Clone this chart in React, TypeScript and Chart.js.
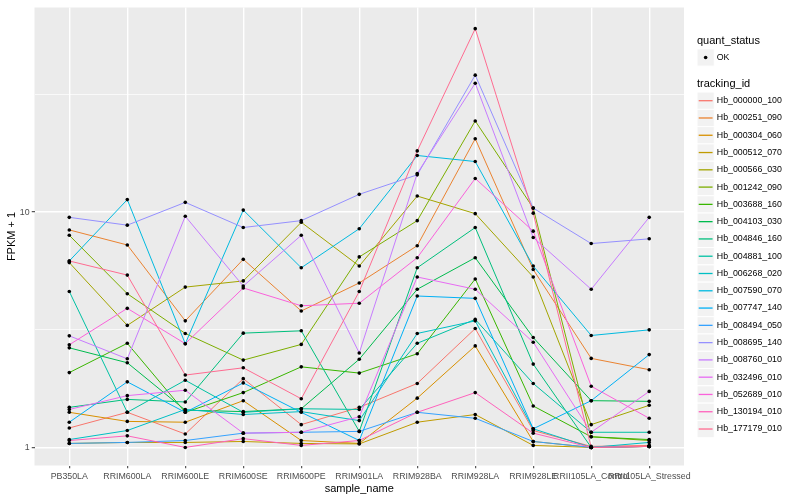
import React, { useEffect, useRef } from "react";
import { Chart, registerables } from "chart.js";

Chart.register(...registerables);

const categories = [
  "PB350LA", "RRIM600LA", "RRIM600LE", "RRIM600SE", "RRIM600PE", "RRIM901LA",
  "RRIM928BA", "RRIM928LA", "RRIM928LE", "RRII105LA_Control", "RRII105LA_Stressed",
];

const trackingIds = [
  "Hb_000000_100", "Hb_000251_090", "Hb_000304_060", "Hb_000512_070", "Hb_000566_030",
  "Hb_001242_090", "Hb_003688_160", "Hb_004103_030", "Hb_004846_160", "Hb_004881_100",
  "Hb_006268_020", "Hb_007590_070", "Hb_007747_140", "Hb_008494_050", "Hb_008695_140",
  "Hb_008760_010", "Hb_032496_010", "Hb_052689_010", "Hb_130194_010", "Hb_177179_010",
];

const seriesColors = [
  "#F8766D", "#EA8331", "#D89000", "#C09B00", "#A3A500", "#7CAE00", "#39B600", "#00BB4E",
  "#00BF7D", "#00C1A3", "#00BFC4", "#00BAE0", "#00B0F6", "#35A2FF", "#9590FF", "#C77CFF",
  "#E76BF3", "#FA62DB", "#FF62BC", "#FF6C91",
];

const hb_000000_100 = [1.21, 1.41, 1.14, 1.96, 1.25, 1.48, 1.87, 3.2, 1.18, 1.01, 1.02];
const hb_000251_090 = [8.4, 7.25, 3.45, 6.3, 3.8, 5.0, 7.2, 20.5, 5.7, 2.39, 2.14];
const hb_000304_060 = [1.41, 1.29, 1.28, 1.58, 1.07, 1.04, 1.62, 2.7, 1.06, 1.0, 1.01];
const hb_000512_070 = [1.04, 1.05, 1.05, 1.06, 1.04, 1.035, 1.28, 1.38, 1.02, 1.0, 1.01];
const hb_000566_030 = [6.1, 3.3, 4.8, 5.1, 9.05, 5.9, 11.7, 9.85, 5.3, 1.25, 1.51];
const hb_001242_090 = [7.97, 4.5, 3.05, 2.35, 2.74, 6.45, 9.2, 24.4, 10.4, 1.11, 1.07];
const hb_003688_160 = [2.08, 2.77, 1.41, 1.71, 2.2, 2.07, 2.5, 5.2, 1.5, 1.11, 1.08];
const hb_004103_030 = [2.65, 2.29, 1.44, 1.42, 1.46, 2.37, 4.7, 6.4, 2.93, 1.58, 1.57];
const hb_004846_160 = [1.48, 1.6, 1.56, 3.06, 3.13, 1.17, 5.8, 8.6, 2.26, 1.0, 1.01];
const hb_004881_100 = [4.6, 1.41, 1.93, 1.41, 1.46, 1.45, 2.77, 3.5, 1.87, 1.16, 1.16];
const hb_006268_020 = [1.08, 1.18, 1.45, 1.38, 1.42, 1.3, 3.05, 3.45, 1.2, 1.0, 1.05];
const hb_007590_070 = [6.2, 11.3, 2.76, 10.2, 5.8, 8.5, 17.4, 16.4, 5.9, 2.99, 3.16];
const hb_007747_140 = [1.28, 1.9, 1.41, 1.88, 1.41, 1.07, 4.4, 4.3, 1.2, 1.58, 2.48];
const hb_008494_050 = [1.04, 1.05, 1.07, 1.15, 1.16, 1.17, 1.41, 1.33, 1.06, 1.0, 1.01];
const hb_008695_140 = [9.5, 8.8, 11.0, 8.6, 9.2, 11.9, 14.4, 38.2, 10.4, 7.35, 7.7];
const hb_008760_010 = [2.98, 2.38, 9.6, 4.85, 7.97, 2.52, 14.6, 35.3, 7.8, 4.7, 9.5];
const hb_032496_010 = [1.45, 1.66, 1.75, 1.15, 1.16, 1.35, 5.3, 4.7, 2.8, 1.16, 1.73];
const hb_052689_010 = [2.73, 3.9, 2.76, 4.76, 4.0, 4.1, 6.4, 13.9, 8.3, 1.82, 1.33];
const hb_130194_010 = [1.07, 1.12, 1.0, 1.09, 1.02, 1.07, 1.41, 1.71, 1.15, 1.0, 1.01];
const hb_177179_010 = [6.2, 5.4, 2.03, 2.18, 1.61, 4.6, 18.2, 60.2, 9.9, 1.0, 1.01];

const seriesValues = [
  hb_000000_100, hb_000251_090, hb_000304_060, hb_000512_070, hb_000566_030,
  hb_001242_090, hb_003688_160, hb_004103_030, hb_004846_160, hb_004881_100,
  hb_006268_020, hb_007590_070, hb_007747_140, hb_008494_050, hb_008695_140,
  hb_008760_010, hb_032496_010, hb_052689_010, hb_130194_010, hb_177179_010,
];

const yTickValues = [1, 3.1623, 10, 31.623];
const yTickLabels = ["1", "", "10", ""];

const FONT = '"Liberation Sans", Arial, Helvetica, sans-serif';

const decorPlugin = {
  id: "ggdecor",
  beforeDraw(chart: any) {
    const { ctx, chartArea: a } = chart;
    ctx.save();
    ctx.fillStyle = "#EBEBEB";
    ctx.fillRect(a.left, a.top, a.right - a.left, a.bottom - a.top);
    ctx.restore();
  },
  afterDraw(chart: any) {
    const { ctx, chartArea: a } = chart;
    ctx.save();
    ctx.fillStyle = "#000000";
    ctx.font = `11px ${FONT}`;
    ctx.textAlign = "center";
    ctx.textBaseline = "middle";
    ctx.fillText("sample_name", (a.left + a.right) / 2, 489);
    ctx.save();
    ctx.translate(12, (a.top + a.bottom) / 2);
    ctx.rotate(-Math.PI / 2);
    ctx.fillText("FPKM + 1", 0, 0);
    ctx.restore();

    // Legend
    const lx = a.right + 13;
    const key = 17.28;
    ctx.textAlign = "left";
    ctx.font = `11px ${FONT}`;
    ctx.fillText("quant_status", lx, 40.7);
    ctx.fillStyle = "#F2F2F2";
    ctx.strokeStyle = "#FFFFFF";
    ctx.lineWidth = 1;
    ctx.fillRect(lx, 57.5 - key / 2, key, key);
    ctx.strokeRect(lx, 57.5 - key / 2, key, key);
    ctx.fillStyle = "#000000";
    ctx.beginPath();
    ctx.arc(lx + key / 2, 57.5, 1.8, 0, Math.PI * 2);
    ctx.fill();
    ctx.font = `8.8px ${FONT}`;
    ctx.fillText("OK", lx + key + 2.5, 57.5);

    ctx.font = `11px ${FONT}`;
    ctx.fillText("tracking_id", lx, 84.3);
    ctx.font = `8.8px ${FONT}`;
    trackingIds.forEach((id, i) => {
      const cy = 100.7 + key * i;
      ctx.fillStyle = "#F2F2F2";
      ctx.fillRect(lx, cy - key / 2, key, key);
      ctx.strokeStyle = "#FFFFFF";
      ctx.lineWidth = 1;
      ctx.strokeRect(lx, cy - key / 2, key, key);
      ctx.strokeStyle = seriesColors[i];
      ctx.lineWidth = 1.3;
      ctx.beginPath();
      ctx.moveTo(lx + 1.7, cy);
      ctx.lineTo(lx + key - 1.7, cy);
      ctx.stroke();
      ctx.fillStyle = "#000000";
      ctx.fillText(id, lx + key + 2.5, cy);
    });
    ctx.restore();
  },
};

export default function App() {
  const canvasRef = useRef<HTMLCanvasElement | null>(null);

  useEffect(() => {
    if (!canvasRef.current) return;
    const lineSets = seriesValues.map((vals, idx) => ({
      type: "line" as const,
      label: trackingIds[idx],
      data: vals.map((v, i) => ({ x: i, y: v })),
      borderColor: seriesColors[idx],
      backgroundColor: seriesColors[idx],
      borderWidth: 1,
      pointRadius: 0,
      fill: false,
      tension: 0,
      borderJoinStyle: "round" as const,
      order: seriesValues.length - 1 - idx,
    }));
    const pointSet = {
      type: "scatter" as const,
      label: "OK",
      data: seriesValues.flatMap((vals) => vals.map((v, i) => ({ x: i, y: v }))),
      backgroundColor: "#000000",
      borderWidth: 0,
      pointRadius: 1.8,
      showLine: false,
      order: -1,
    };

    const chart = new Chart(canvasRef.current, {
      type: "line",
      data: { datasets: [...lineSets, pointSet] as any },
      options: {
        animation: false,
        responsive: false,
        devicePixelRatio: 1,
        layout: { padding: { left: 0, top: 5, right: 116, bottom: 0 } },
        plugins: { legend: { display: false }, tooltip: { enabled: false } },
        scales: {
          x: {
            type: "linear",
            min: -0.6,
            max: 10.6,
            afterBuildTicks: (scale: any) => {
              scale.ticks = categories.map((_, i) => ({ value: i }));
            },
            afterFit: (scale: any) => {
              scale.height = 34.5;
            },
            border: { display: false },
            grid: {
              color: "#FFFFFF",
              lineWidth: 1.4,
              tickColor: "#333333",
              tickLength: 2.75,
              tickWidth: 1,
            },
            ticks: {
              autoSkip: false,
              maxRotation: 0,
              minRotation: 0,
              padding: 3,
              color: "#4D4D4D",
              font: { family: FONT, size: 8.8 },
              callback: (v: any) => categories[Math.round(Number(v))] ?? "",
            },
          },
          y: {
            type: "logarithmic",
            min: 0.838,
            max: 74.05,
            afterBuildTicks: (scale: any) => {
              scale.ticks = yTickValues.map((v) => ({ value: v }));
            },
            afterFit: (scale: any) => {
              scale.width = 34.5;
            },
            border: { display: false },
            grid: {
              color: "#FFFFFF",
              lineWidth: (c: any) => (c.index % 2 === 0 ? 1.4 : 0.7),
              tickColor: (c: any) => (c.index % 2 === 0 ? "#333333" : "rgba(0,0,0,0)"),
              tickLength: 2.75,
              tickWidth: 1,
            },
            ticks: {
              autoSkip: false,
              padding: 2.2,
              color: "#4D4D4D",
              font: { family: FONT, size: 8.8 },
              callback: (_v: any, i: number) => yTickLabels[i] ?? "",
            },
          },
        },
      },
      plugins: [decorPlugin],
    });
    return () => chart.destroy();
  }, []);

  return (
    <div style={{ position: "fixed", left: 0, top: 0, width: 800, height: 500, background: "#FFFFFF" }}>
      <canvas ref={canvasRef} width={800} height={500} style={{ width: 800, height: 500 }} />
    </div>
  );
}
